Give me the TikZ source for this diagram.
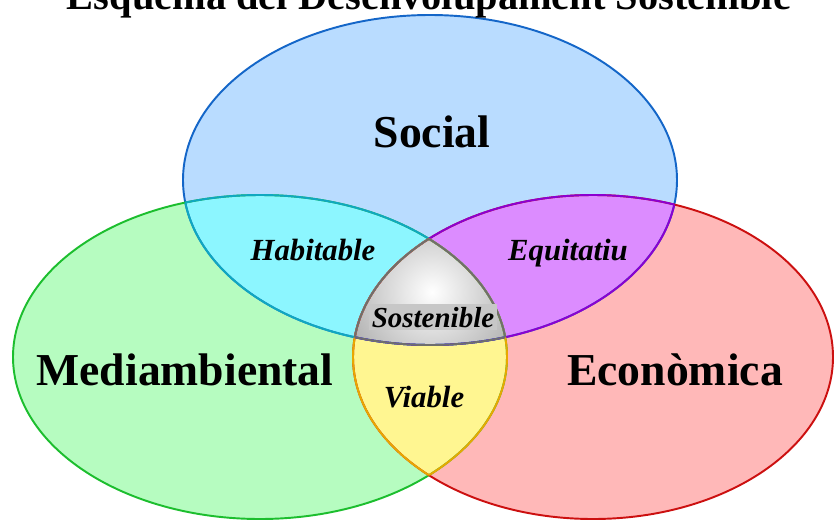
\documentclass[tikz,border=0pt]{standalone}
\usepackage{fontspec}
\setmainfont{Liberation Serif}
\usepackage{xcolor}
\usepackage{tikz}
\usetikzlibrary{positioning}

\definecolor{socialfill}{RGB}{185,220,255}
\definecolor{socialline}{RGB}{20,102,200}
\definecolor{mediofill}{RGB}{182,252,192}
\definecolor{medioline}{RGB}{28,190,46}
\definecolor{econofill}{RGB}{255,184,184}
\definecolor{econoline}{RGB}{204,16,16}
\definecolor{habfill}{RGB}{140,246,255}
\definecolor{habline}{RGB}{16,168,192}
\definecolor{equfill}{RGB}{220,140,255}
\definecolor{equline}{RGB}{140,0,208}
\definecolor{viafill}{RGB}{255,246,145}
\definecolor{vialine}{RGB}{232,168,0}
\definecolor{sosline}{RGB}{110,110,110}

\begin{document}
\begin{tikzpicture}[x=0.02cm, y=-0.02cm,
  bigtext/.style={font=\fontsize{26}{30}\selectfont\bfseries, anchor=base},
  smalltext/.style={font=\fontsize{17.5}{20}\selectfont\bfseries\itshape, anchor=base},
  rim/.style={line width=1.1pt}]

\clip (0,0) rectangle (835,521);
\fill[white] (0,0) rectangle (835,521);

\coordinate(S) at (430, 180);
\coordinate(M) at (260, 357);
\coordinate(E) at (593, 357);

\def\social{(S) ellipse [x radius=247, y radius=165]}
\def\medio{(M) ellipse [x radius=247, y radius=162]}
\def\econo{(E) ellipse [x radius=240, y radius=162]}

% the three circles
\fill[socialfill] \social;
\fill[mediofill] \medio;
\fill[econofill] \econo;

% two by two
\begin{scope}
\clip \social;
\fill[habfill] \medio;
\fill[equfill] \econo;
\end{scope}
\begin{scope}
\clip \medio;
\fill[viafill] \econo;
\end{scope}

% all three
\begin{scope}
\clip \social;
\clip \medio;
\clip \econo;
\shade[inner color=white, outer color=black!32] (432,292) circle [radius=95];
\end{scope}

\draw[rim, socialline] \social;
\draw[rim, medioline] \medio;
\draw[rim, econoline] \econo;

\begin{scope}
\clip \social;
\draw[rim, habline] \medio;
\draw[rim, equline] \econo;
\end{scope}
\begin{scope}
\clip \medio;
\draw[rim, habline] \social;
\draw[rim, vialine] \econo;
\end{scope}
\begin{scope}
\clip \econo;
\draw[rim, equline] \social;
\draw[rim, vialine] \medio;
\end{scope}

\begin{scope}
\clip \social;
\clip \medio;
\draw[rim, sosline] \econo;
\end{scope}
\begin{scope}
\clip \social;
\clip \econo;
\draw[rim, sosline] \medio;
\end{scope}
\begin{scope}
\clip \medio;
\clip \econo;
\draw[rim, sosline] \social;
\end{scope}

\node[bigtext, font=\fontsize{23}{27}\selectfont\bfseries] (title) at (429, 9) {Esquema del Desenvolupament Sostenible};
\node[bigtext] (a) at (432, 147) {Social};
\node[bigtext] (b) at (185, 385) {Mediambiental};
\node[bigtext] (c) at (675, 385) {Econòmica};

\node[smalltext] (ab) at (313, 260) {Habitable};
\node[smalltext] (ac) at (568, 260) {Equitatiu};
\node[smalltext] (bc) at (424, 407) {Viable};
\node[smalltext, font=\fontsize{16.5}{20}\selectfont\bfseries\itshape,
      fill=black!22, inner sep=1.5pt] (abc) at (433, 327) {Sostenible};

\end{tikzpicture}
\end{document}
